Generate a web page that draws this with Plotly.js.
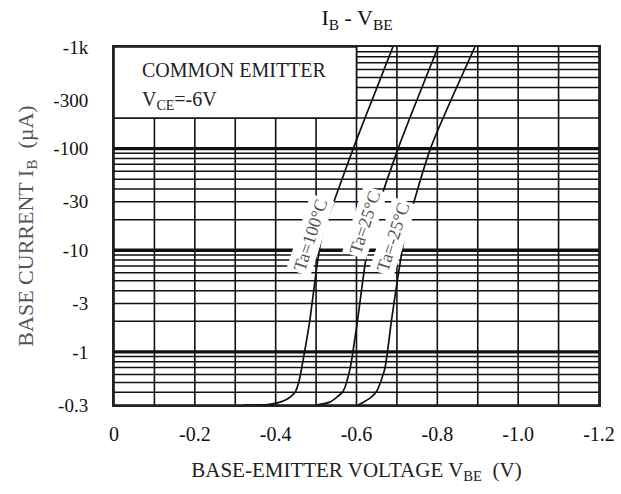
<!DOCTYPE html>
<html>
<head>
<meta charset="utf-8">
<script src="https://cdn.plot.ly/plotly-3.0.1.min.js"></script>
<style>html,body{margin:0;padding:0;background:#fff;}#chart{width:621px;height:494px;}</style>
</head>
<body>
<div id="chart"></div>
<script>
// ---- data (VBE magnitude in V, IB magnitude in µA) ----
const vbe100 = [0.32, 0.38, 0.411, 0.430, 0.448, 0.457, 0.464, 0.475, 0.485, 0.501, 0.514, 0.550, 0.600, 0.645, 0.690];
const ib100  = [0.30, 0.302, 0.32, 0.345, 0.40, 0.50, 0.68, 1.2, 2.1, 6.5, 13.5, 35, 122, 350, 1000];
const vbe25  = [0.50, 0.534, 0.550, 0.567, 0.584, 0.603, 0.633, 0.703, 0.802];
const ib25   = [0.30, 0.32, 0.355, 0.41, 0.68, 2.1, 14, 100, 1000];
const vbeM25 = [0.604, 0.617, 0.635, 0.650, 0.670, 0.687, 0.720, 0.783, 0.893];
const ibM25  = [0.30, 0.32, 0.355, 0.41, 0.68, 2.1, 14, 100, 1000];

const curveLabels = ["Ta=100°C", "Ta=25°C", "Ta=-25°C"];
const labelV = [0.487, 0.621, 0.691];
const labelI = [14, 19, 13.4];

const xTickVals = [0, 0.2, 0.4, 0.6, 0.8, 1.0, 1.2];
const xTickText = ["0", "-0.2", "-0.4", "-0.6", "-0.8", "-1.0", "-1.2"];
const yTickVals = [0.3, 1, 3, 10, 30, 100, 300, 1000];
const yTickText = ["-0.3", "-1", "-3", "-10", "-30", "-100", "-300", "-1k"];

const FONT = "Liberation Serif, Times New Roman, serif";

// ---- grid lines (log-paper style) ----
const shapes = [];
for (let i = 0; i <= 12; i++) {
  shapes.push({type: "line", layer: "between", xref: "x", yref: "paper",
    x0: i * 0.1, x1: i * 0.1, y0: 0, y1: 1, line: {color: "#111", width: 1.6}});
}
for (let d = -1; d <= 2; d++) {
  for (let m = 1; m <= 9; m++) {
    const v = m * Math.pow(10, d);
    if (v < 0.3 - 1e-9) continue;
    shapes.push({type: "line", layer: "between", xref: "paper", yref: "y",
      x0: 0, x1: 1, y0: v, y1: v,
      line: {color: "#111", width: m === 1 ? 3.4 : 1.5}});
  }
}
// white inset box for the condition text
shapes.push({type: "rect", layer: "between", xref: "x", yref: "y",
  x0: 0, x1: 0.6, y0: 200, y1: 1000,
  fillcolor: "#fff", line: {color: "#111", width: 1.6}});

const traces = [[vbe100, ib100], [vbe25, ib25], [vbeM25, ibM25]].map(([x, y]) => ({
  x: x, y: y, type: "scatter", mode: "lines",
  line: {color: "#111", width: 1.7, shape: "spline", smoothing: 0.6},
  hoverinfo: "skip", showlegend: false
}));

const annotations = [
  {text: "COMMON EMITTER", x: 0.064, y: 2.774, xref: "x", yref: "y", xanchor: "left", yanchor: "middle",
   showarrow: false, font: {family: FONT, size: 20, color: "#222"}},
  {text: "V<sub>CE</sub>=-6V", x: 0.064, y: 2.47, xref: "x", yref: "y", xanchor: "left", yanchor: "middle",
   showarrow: false, font: {family: FONT, size: 20, color: "#222"}}
];
curveLabels.forEach((t, i) => {
  annotations.push({text: t, x: labelV[i], y: Math.log10(labelI[i]), xref: "x", yref: "y",
    showarrow: false, textangle: -72, bgcolor: "#fff", borderpad: 2,
    font: {family: FONT, size: 18, color: "#555"}});
});

const layout = {
  width: 621, height: 494,
  margin: {l: 114, r: 22, t: 47, b: 89},
  paper_bgcolor: "#fff", plot_bgcolor: "#fff",
  title: {text: "I<sub>B</sub> - V<sub>BE</sub>", x: 0.575, xanchor: "center", y: 0.965, yanchor: "middle",
          font: {family: FONT, size: 22, color: "#111"}},
  xaxis: {range: [0, 1.2], tickvals: xTickVals, ticktext: xTickText, showgrid: false, zeroline: false,
          showline: true, mirror: true, linecolor: "#222", linewidth: 2,
          ticks: "outside", ticklen: 10, tickcolor: "rgba(0,0,0,0)",
          tickfont: {family: FONT, size: 20, color: "#111"},
          title: {text: "BASE-EMITTER VOLTAGE V<sub>BE</sub>  (V)", standoff: 18,
                  font: {family: FONT, size: 21, color: "#222"}}},
  yaxis: {type: "log", range: [Math.log10(0.3), 3], tickvals: yTickVals, ticktext: yTickText,
          showgrid: false, zeroline: false, showline: true, mirror: true, linecolor: "#222", linewidth: 2,
          ticks: "outside", ticklen: 20, tickcolor: "rgba(0,0,0,0)",
          tickfont: {family: FONT, size: 19, color: "#111"},
          title: {text: "BASE CURRENT I<sub>B</sub>  (µA)", standoff: 14,
                  font: {family: FONT, size: 22, color: "#555"}}},
  shapes: shapes,
  annotations: annotations
};

Plotly.newPlot("chart", traces, layout, {staticPlot: true, displayModeBar: false});
</script>
</body>
</html>
